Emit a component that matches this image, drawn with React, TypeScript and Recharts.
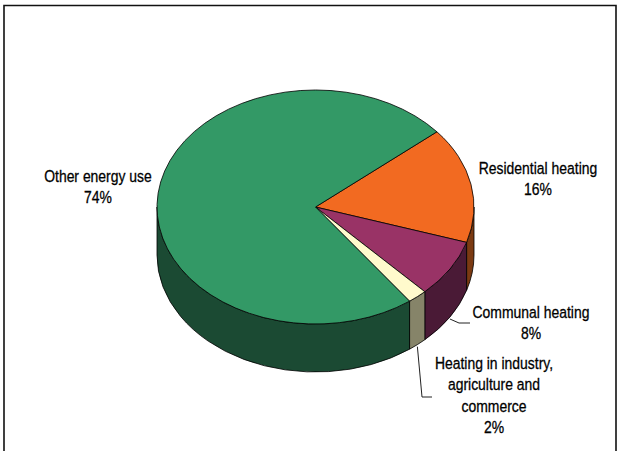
import { PieChart, Pie, Cell } from 'recharts';

// shares of energy use (%), clockwise from the upper right
const categories = [
  'Residential heating',
  'Communal heating',
  'Heating in industry, agriculture and commerce',
  'Other energy use',
];
const shares = [16, 8, 2, 74];
const labelLines = [
  ['Residential heating'],
  ['Communal heating'],
  ['Heating in industry,', 'agriculture and', 'commerce'],
  ['Other energy use'],
];

const topColors = ['#f26a21', '#993366', '#fffacc', '#339966'];
const sideColors = ['#7b3a12', '#4a1a36', '#868469', '#1b4a33'];

const data = categories.map((name, i) => ({ name, value: shares[i] }));

const W = 622;
const H = 451;
const CX = 315.5;
const CY = 207;
const R = 158.5;
const TILT = 117 / 158.5;
const DEPTH = 48;
const FONT = '"Liberation Sans", Arial, sans-serif';
const NARROW = 0.82;

// where the label blocks sit (text centre x, first baseline y) and the leader elbows
const labelLayout: Record<string, { x: number; y: number; line?: [number, number][] }> = {
  'Residential heating': { x: 538, y: 174 },
  'Communal heating': { x: 531, y: 318, line: [[459, 323], [470, 323]] },
  'Heating in industry, agriculture and commerce': {
    x: 494,
    y: 369,
    line: [[422, 397], [432, 397]],
  },
  'Other energy use': { x: 98, y: 182 },
};

const pt = (cx: number, cy: number, rx: number, ry: number, a: number) => {
  const r = (a * Math.PI) / 180;
  return [cx + rx * Math.cos(r), cy - ry * Math.sin(r)];
};

const nameOf = (p: any) => p?.payload?.name ?? p?.name;

function Slice3D(props: any) {
  const { cx, cy, outerRadius, startAngle, endAngle } = props;
  const idx = categories.indexOf(nameOf(props));
  const rx = outerRadius;
  const ry = outerRadius * TILT;
  const hi = Math.max(startAngle, endAngle);
  const lo = Math.min(startAngle, endAngle);
  const large = hi - lo > 180 ? 1 : 0;
  const [x1, y1] = pt(cx, cy, rx, ry, hi);
  const [x2, y2] = pt(cx, cy, rx, ry, lo);
  const top = `M${cx},${cy} L${x1},${y1} A${rx},${ry} 0 ${large} 1 ${x2},${y2} Z`;

  // visible wall: parts of the slice on the front half of the ellipse
  const sides: string[] = [];
  for (let k = -2; k <= 1; k++) {
    const a = Math.max(lo, -180 + 360 * k);
    const b = Math.min(hi, 360 * k);
    if (b - a > 0.01) {
      const [bx, by] = pt(cx, cy, rx, ry, b);
      const [ax, ay] = pt(cx, cy, rx, ry, a);
      sides.push(
        `M${bx},${by} A${rx},${ry} 0 0 1 ${ax},${ay} L${ax},${ay + DEPTH} A${rx},${ry} 0 0 0 ${bx},${by + DEPTH} Z`
      );
    }
  }

  return (
    <g>
      {sides.map((d, i) => (
        <path key={i} d={d} fill={sideColors[idx]} stroke="#000" strokeWidth={0.8} strokeLinejoin="round" />
      ))}
      <path d={top} fill={topColors[idx]} stroke="#000" strokeWidth={0.8} strokeLinejoin="round" />
    </g>
  );
}

function SliceLabel(props: any) {
  const name = nameOf(props);
  const idx = categories.indexOf(name);
  const pos = labelLayout[name];
  if (!pos) return null;
  const lines = [...labelLines[idx], `${shares[idx]}%`];
  return (
    <g transform={`translate(${pos.x},0) scale(${NARROW},1) translate(${-pos.x},0)`}>
      <text
        x={pos.x}
        y={pos.y}
        textAnchor="middle"
        fill="#000"
        stroke="#000"
        strokeWidth={0.3}
        fontSize={17}
        fontFamily={FONT}
      >
        {lines.map((l, j) => (
          <tspan key={j} x={pos.x} dy={j === 0 ? 0 : 21.4}>
            {l}
          </tspan>
        ))}
      </text>
    </g>
  );
}

function LeaderLine(props: any) {
  const name = nameOf(props);
  const pos = labelLayout[name];
  if (!pos?.line) return null;
  const { cx, cy, outerRadius, midAngle } = props;
  const [sx, sy] = pt(cx, cy, outerRadius, outerRadius * TILT, midAngle);
  const pts = [[sx, sy + DEPTH + 2], ...pos.line].map((p) => p.join(',')).join(' ');
  return <polyline points={pts} fill="none" stroke="#222" strokeWidth={1} />;
}

export default function App() {
  return (
    <div style={{ position: 'absolute', left: 0, top: 0, width: W, height: H, background: '#fff' }}>
      <svg width={W} height={H} style={{ position: 'absolute', left: 0, top: 0 }}>
        <path d={`M4,${H + 2} L4,5.5 L616,5.5 L616,${H + 2}`} fill="none" stroke="#111" strokeWidth={1.6} />
      </svg>
      <PieChart
        width={W}
        height={H}
        margin={{ top: 0, right: 0, bottom: 0, left: 0 }}
        style={{ position: 'absolute', left: 0, top: 0 }}
      >
        <Pie
          data={data}
          dataKey="value"
          nameKey="name"
          cx={CX}
          cy={CY}
          outerRadius={R}
          startAngle={40}
          endAngle={-320}
          stroke="none"
          shape={Slice3D}
          label={SliceLabel}
          labelLine={LeaderLine}
          isAnimationActive={false}
        >
          {data.map((d, i) => (
            <Cell key={d.name} fill={topColors[i]} />
          ))}
        </Pie>
      </PieChart>
    </div>
  );
}
